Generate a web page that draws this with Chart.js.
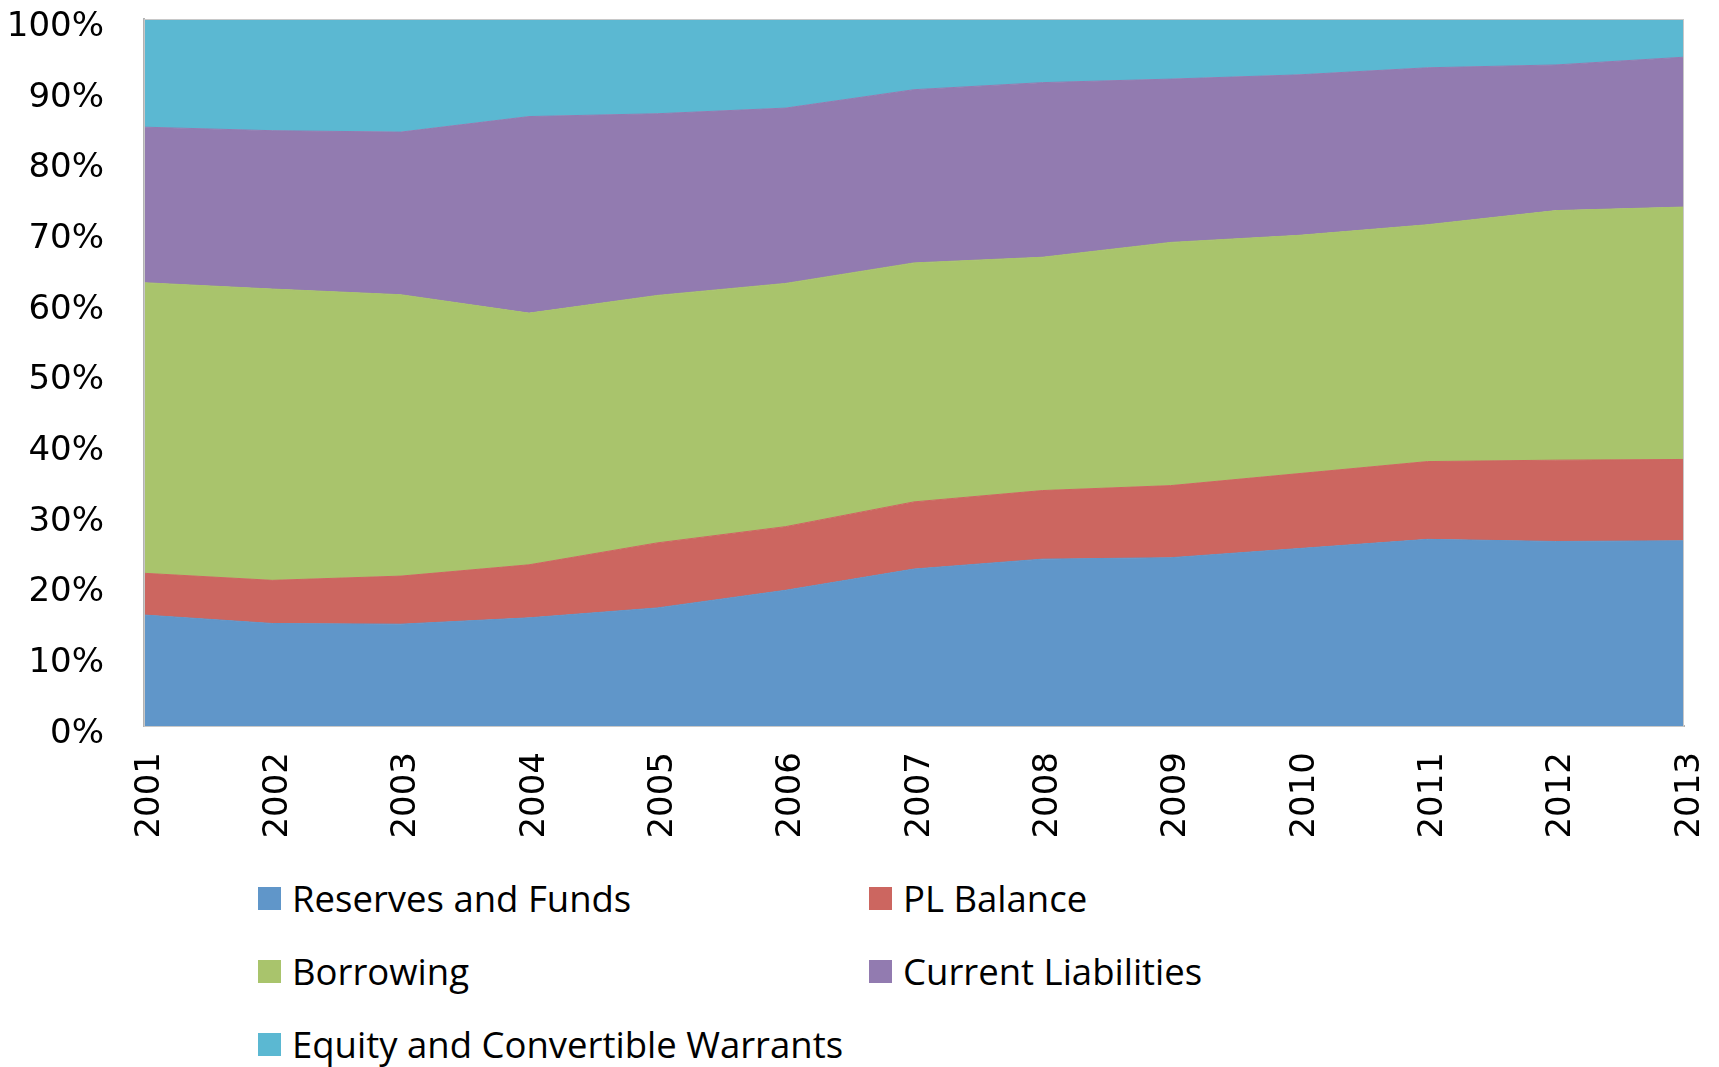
<!DOCTYPE html>
<html>
<head>
<meta charset="utf-8">
<script src="https://cdn.jsdelivr.net/npm/chart.js@4.4.1/dist/chart.umd.min.js"></script>
<style>
  body { margin: 0; background: #fff; width: 1719px; height: 1067px; overflow: hidden; position: relative; }
  #chartBox { position: absolute; left: 0; top: 0; width: 1719px; height: 860px; }
  .legend-item { position: absolute; display: flex; align-items: center; font-family: 'Open Sans', sans-serif; font-size: 36.5px; color: #000; white-space: nowrap; }
  .legend-item .sw { width: 23px; height: 23px; margin-right: 11px; flex: none; }
</style>
</head>
<body>
<div id="chartBox"><canvas id="areaChart" width="1719" height="860"></canvas></div>
<div id="legend"></div>
<script>
// share of each item in the balance sheet, % per year
const years = ['2001', '2002', '2003', '2004', '2005', '2006', '2007', '2008', '2009', '2010', '2011', '2012', '2013'];
const reservesAndFunds = [15.7, 14.5, 14.4, 15.3, 16.7, 19.2, 22.2, 23.6, 23.8, 25.1, 26.4, 26.1, 26.2];
const plBalance = [5.9, 6.1, 6.8, 7.5, 9.2, 9.0, 9.5, 9.7, 10.2, 10.6, 11.0, 11.5, 11.5];
const borrowing = [41.1, 41.2, 39.8, 35.6, 35.0, 34.4, 33.8, 33.0, 34.4, 33.7, 33.5, 35.3, 35.7];
const currentLiabilities = [22.0, 22.4, 23.0, 27.8, 25.7, 24.8, 24.5, 24.7, 23.1, 22.7, 22.2, 20.6, 21.2];
const equityAndWarrants = [15.3, 15.8, 16.0, 13.8, 13.4, 12.6, 10.0, 9.0, 8.5, 7.9, 6.9, 6.5, 5.4];
const yTicks = [0, 10, 20, 30, 40, 50, 60, 70, 80, 90, 100];

const colors = {
  reserves: '#6096C9',
  pl: '#CC6660',
  borrowing: '#A9C46C',
  current: '#927BB0',
  equity: '#5BB8D2',
};

const tickFont = { family: "'DejaVu Sans', Verdana, sans-serif", size: 34 };

function area(label, data, color, fill) {
  return {
    label,
    data,
    backgroundColor: color,
    borderColor: color,
    borderWidth: 1,
    pointRadius: 0,
    tension: 0,
    fill,
  };
}

// scales add their own label padding to the layout; drop it so the plot sits where the padding says
function noPad(s) {
  s.paddingTop = 0;
  s.paddingBottom = 0;
  s.paddingLeft = 0;
  s.paddingRight = 0;
}

// thin light frame round the plot area
const plotFrame = {
  id: 'plotFrame',
  afterDatasetsDraw(chart) {
    const a = chart.chartArea;
    const ctx = chart.ctx;
    ctx.save();
    ctx.strokeStyle = '#C8C8C8';
    ctx.lineWidth = 1;
    ctx.strokeRect(a.left + 0.5, a.top + 0.5, a.right - a.left - 1, a.bottom - a.top);
    ctx.restore();
  },
};

const chart = new Chart(document.getElementById('areaChart'), {
  type: 'line',
  data: {
    labels: years,
    datasets: [
      area('Reserves and Funds', reservesAndFunds, colors.reserves, 'origin'),
      area('PL Balance', plBalance, colors.pl, '-1'),
      area('Borrowing', borrowing, colors.borrowing, '-1'),
      area('Current Liabilities', currentLiabilities, colors.current, '-1'),
      area('Equity and Convertible Warrants', equityAndWarrants, colors.equity, '-1'),
    ],
  },
  options: {
    responsive: false,
    animation: false,
    devicePixelRatio: 1,
    layout: { padding: { top: 19, right: 35, left: 0, bottom: 0 } },
    plugins: { legend: { display: false }, tooltip: { enabled: false } },
    scales: {
      x: {
        offset: false,
        grid: { display: false, drawTicks: false },
        border: { display: true, color: '#B3B3B3', width: 2 },
        ticks: { color: '#000', font: tickFont, minRotation: 90, maxRotation: 90, autoSkip: false, padding: 26, labelOffset: 6 },
        afterFit(s) { s.height = 134; noPad(s); },
      },
      y: {
        stacked: true,
        min: 0,
        max: 100,
        afterBuildTicks(s) { s.ticks = yTicks.map((v) => ({ value: v })); },
        grid: { display: false, drawTicks: false },
        border: { display: true, color: '#B3B3B3', width: 2 },
        ticks: { color: '#000', font: tickFont, padding: 40, labelOffset: 8, callback: (v) => v + '%' },
        afterFit(s) { s.width = 144; noPad(s); },
      },
    },
  },
  plugins: [plotFrame],
});

// legend in two columns, built from the chart's datasets
const legendSpots = [
  { left: 258, top: 898 },
  { left: 869, top: 898 },
  { left: 258, top: 971 },
  { left: 869, top: 971 },
  { left: 258, top: 1044 },
];
const legendEl = document.getElementById('legend');
chart.data.datasets.forEach((ds, i) => {
  const item = document.createElement('div');
  item.className = 'legend-item';
  item.style.left = legendSpots[i].left + 'px';
  item.style.top = (legendSpots[i].top - 24) + 'px';
  item.style.height = '48px';
  const sw = document.createElement('span');
  sw.className = 'sw';
  sw.style.background = ds.backgroundColor;
  const txt = document.createElement('span');
  txt.textContent = ds.label;
  item.appendChild(sw);
  item.appendChild(txt);
  legendEl.appendChild(item);
});
</script>
</body>
</html>
